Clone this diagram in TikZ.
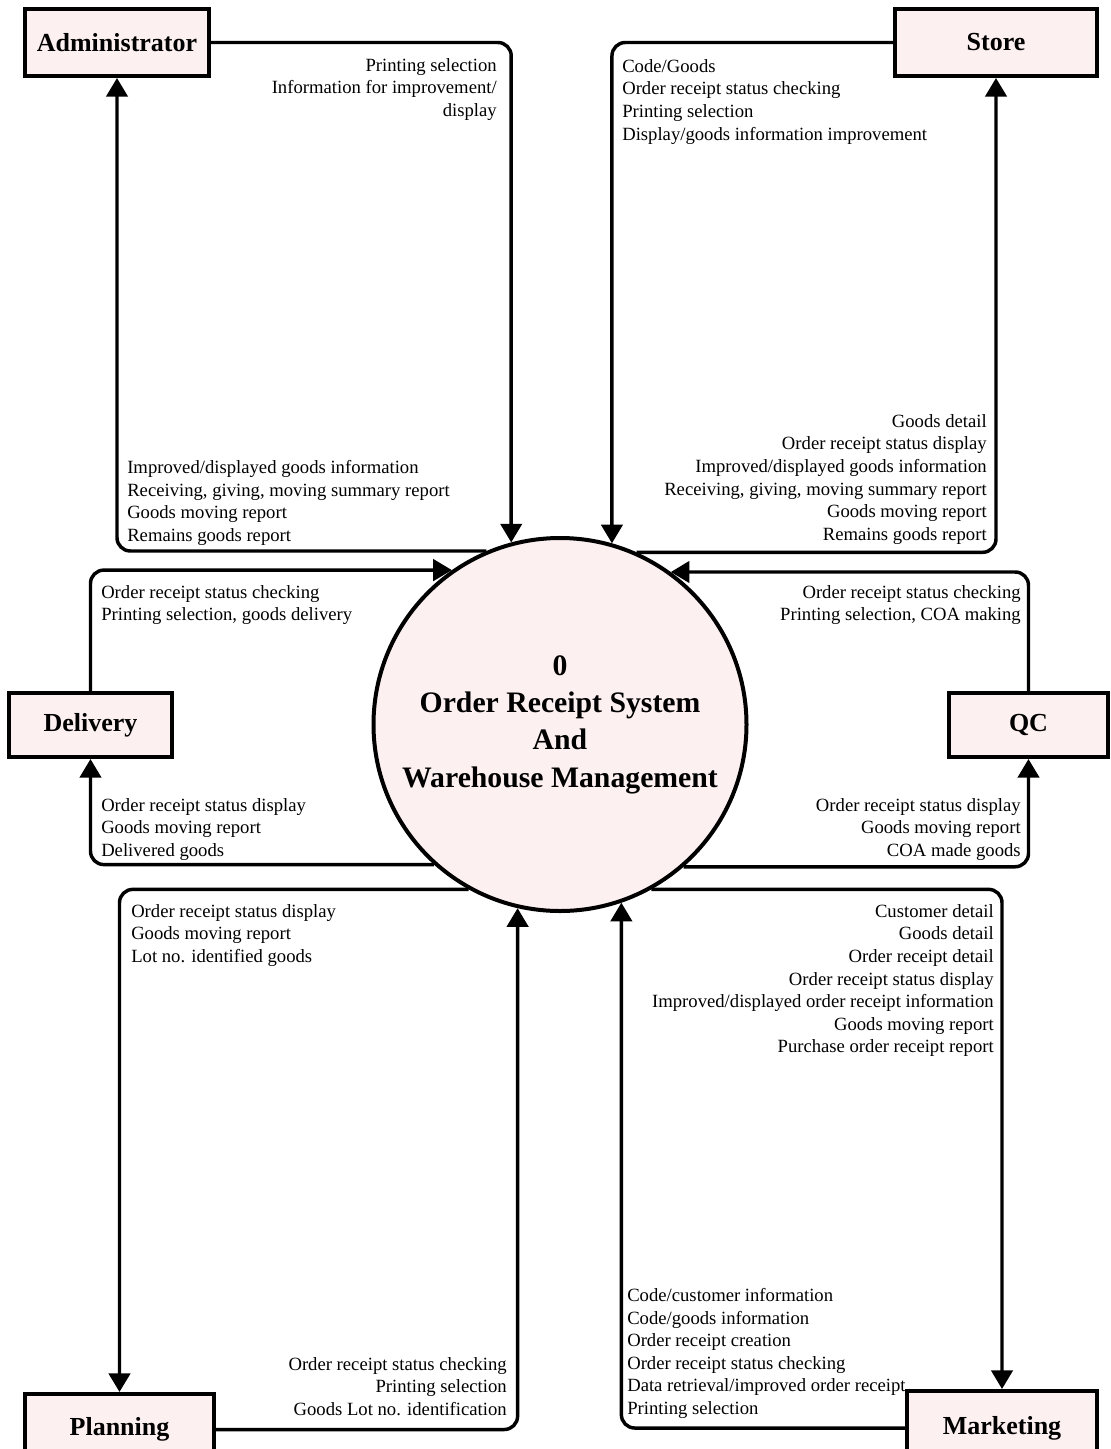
\documentclass[tikz,border=0pt]{standalone}
\usepackage{fontspec}
\setmainfont{Liberation Serif}
\usetikzlibrary{arrows.meta}
\definecolor{entityfill}{RGB}{253,240,240}
\begin{document}
\begin{tikzpicture}[x=0.75pt,y=-0.75pt,
  entity/.style={draw=black, line width=3pt, fill=entityfill, inner sep=0pt,
    font=\fontsize{19.5}{23}\selectfont\bfseries},
  process/.style={circle, draw=black, line width=3pt, fill=entityfill,
    minimum size=279.75pt, inner sep=0pt, align=center,
    font=\fontsize{22.3}{28}\selectfont\bfseries},
  flow/.style={line width=2.6pt, rounded corners=10pt,
    -{Triangle[length=14pt,width=16pt]}},
  lblL/.style={anchor=north west, align=left, inner sep=0pt,
    font=\fontsize{14}{16.95}\selectfont},
  lblR/.style={anchor=north east, align=right, inner sep=0pt,
    font=\fontsize{14}{16.95}\selectfont},
]
\clip (0,0) rectangle (1110,1449);
\fill[white] (0,0) rectangle (1110,1449);

% central process
\node[process] (c) at (560,724.5)
  {0\\Order Receipt System\\And\\Warehouse Management};

% external entities
\node[entity, minimum width=138pt, minimum height=50.25pt] (adm) at (117,42.5) {Administrator};
\node[entity, minimum width=151.5pt, minimum height=50.25pt] (store) at (996,42.5) {Store};
\node[entity, minimum width=122.25pt, minimum height=48pt] (del) at (90.5,725) {Delivery};
\node[entity, minimum width=119.25pt, minimum height=48pt] (qc) at (1028.5,725) {QC};
\node[entity, minimum width=141.75pt, minimum height=53.25pt] (plan) at (119.5,1429.5) {Planning};
\node[entity, minimum width=142.5pt, minimum height=55.5pt] (mkt) at (1002,1428) {Marketing};

% data flows
\draw[flow] (adm.east) -| (c.105.2);
\draw[flow] (c.113.1) -| (adm.south);
\draw[flow] (store.west) -| (c.74.8);
\draw[flow] (c.66.9) -| (store.south);
\draw[flow] (del.north) |- (c.125.7);
\draw[flow] (c.228.9) -| (del.south);
\draw[flow] (qc.north) |- (c.54.3);
\draw[flow] (c.-49.35) -| (qc.south);
\draw[flow] (c.241.9) -| (plan.north);
\draw[flow] (plan.east) -| (c.-103);
\draw[flow] (c.-61.9) -| (mkt.north);
\draw[flow] (mkt.west) -| (c.-71.55);

% flow labels
\node[lblR] (tA) at (497,58) {Printing selection\\Information for improvement/\\display};
\node[lblL] (tB) at (127,460) {Improved/displayed goods information\\Receiving, giving, moving summary report\\Goods moving report\\Remains goods report};
\node[lblL] (tC) at (622,59) {Code/Goods\\Order receipt status checking\\Printing selection\\Display/goods information improvement};
\node[lblR] (tD) at (987,414) {Goods detail\\Order receipt status display\\Improved/displayed goods information\\Receiving, giving, moving summary report\\Goods moving report\\Remains goods report};
\node[lblL] (tE) at (101,585) {Order receipt status checking\\Printing selection, goods delivery};
\node[lblL] (tF) at (101,798) {Order receipt status display\\Goods moving report\\Delivered goods};
\node[lblR] (tG) at (1021,585) {Order receipt status checking\\Printing selection, COA making};
\node[lblR] (tH) at (1021,798) {Order receipt status display\\Goods moving report\\COA made goods};
\node[lblL] (tI) at (131,904) {Order receipt status display\\Goods moving report\\Lot no. identified goods};
\node[lblR] (tJ) at (507,1357) {Order receipt status checking\\Printing selection\\Goods Lot no. identification};
\node[lblR] (tK) at (994,904) {Customer detail\\Goods detail\\Order receipt detail\\Order receipt status display\\Improved/displayed order receipt information\\Goods moving report\\Purchase order receipt report};
\node[lblL] (tL) at (627,1288) {Code/customer information\\Code/goods information\\Order receipt creation\\Order receipt status checking\\Data retrieval/improved order receipt\\Printing selection};
\end{tikzpicture}
\end{document}
